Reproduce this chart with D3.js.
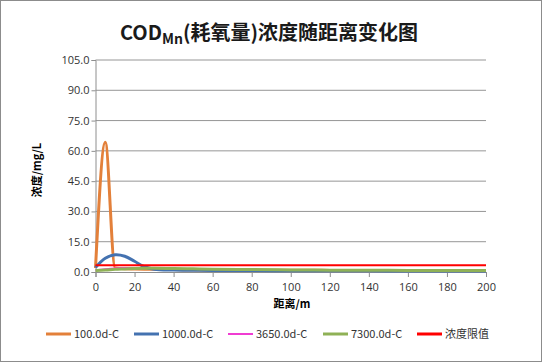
<html>
  <script src="https://d3js.org/d3.v7.min.js"></script>
  <style>
    body { margin: 0; background: #fff; }
    text { font-family: 'Noto Sans CJK SC', 'Open Sans', sans-serif; }
  </style>
  <body>
    <svg id="vis" width="542" height="362"></svg>
    <script>
      // distances (m)
      dist = [0, 5, 10, 15, 20, 25, 30, 40, 50, 60, 80, 100, 120, 140, 160, 180, 200]

      s100  = [2.0, 64.3, 2.0, 1.6, 1.5, 1.4, 1.3, 1.2, 1.1, 1.0, 0.9, 0.9, 0.8, 0.8, 0.8, 0.8, 0.8]
      s1000 = [2.2, 6.8, 8.5, 7.8, 5.3, 2.6, 1.4, 1.0, 0.9, 0.8, 0.7, 0.6, 0.6, 0.6, 0.5, 0.5, 0.5]
      s3650 = [1.0, 1.5, 1.9, 2.1, 2.1, 2.0, 1.9, 1.6, 1.4, 1.3, 1.1, 1.0, 0.9, 0.9, 0.8, 0.8, 0.8]
      s7300 = [0.8, 1.0, 1.3, 1.5, 1.7, 1.8, 1.8, 1.7, 1.6, 1.4, 1.2, 1.0, 0.9, 0.9, 0.8, 0.8, 0.8]
      limit = [3.3, 3.3, 3.3, 3.3, 3.3, 3.3, 3.3, 3.3, 3.3, 3.3, 3.3, 3.3, 3.3, 3.3, 3.3, 3.3, 3.3]

      names = ['100.0d-C', '1000.0d-C', '3650.0d-C', '7300.0d-C', '浓度限值']
      colors = ['#E3803A', '#4472B0', '#F03CD2', '#8FB156', '#FF0000']
      widths = [3, 3, 1.5, 3, 2]
      series = [s100, s1000, s3650, s7300, limit]

      yTicks = [0, 15, 30, 45, 60, 75, 90, 105]
      xTicks = [0, 20, 40, 60, 80, 100, 120, 140, 160, 180, 200]

      var svg = d3.select("#vis")

      svg.append("rect")
        .attr("x", 0.5).attr("y", 0.5)
        .attr("width", 541).attr("height", 361)
        .style("fill", "white")
        .style("stroke", "#8c8c8c")

      var x = d3.scaleLinear().domain([0, 200]).range([95.5, 486])
      var y = d3.scaleLinear().domain([0, 105]).range([272, 60])

      // grid
      svg.selectAll(".grid").data(yTicks.slice(1)).enter()
        .append("line")
        .attr("x1", x(0)).attr("x2", x(200))
        .attr("y1", d => y(d)).attr("y2", d => y(d))
        .style("stroke", "#969696")
        .style("stroke-width", 1)

      var yAxis = svg.append("g")
        .attr("transform", `translate(${x(0)},0)`)
        .call(d3.axisLeft(y).tickValues(yTicks).tickFormat(d3.format(".1f")).tickSize(4))
      yAxis.select(".domain").style("stroke", "#8e8e8e")
      yAxis.selectAll(".tick line").style("stroke", "#8e8e8e")
      yAxis.selectAll("text").style("font-size", "11px").style("fill", "#333")
        .style("font-family", "'Open Sans', sans-serif").attr("x", -6)

      var xAxis = svg.append("g")
        .attr("transform", `translate(0,${y(0)})`)
        .call(d3.axisBottom(x).tickValues(xTicks).tickSize(5))
      xAxis.select(".domain").style("stroke", "#8e8e8e")
      xAxis.selectAll(".tick line").style("stroke", "#8e8e8e")
      xAxis.selectAll("text").style("font-size", "11px").style("fill", "#333")
        .style("font-family", "'Open Sans', sans-serif").attr("dy", "1.0em")

      var smooth = d3.line()
        .x((d, i) => x(dist[i]))
        .y(d => y(d))
        .curve(d3.curveCatmullRom.alpha(0.5))

      var spike = d3.line()
        .x((d, i) => x(dist[i]))
        .y(d => y(d))
        .curve(d3.curveMonotoneX)

      series.forEach((s, k) => {
        svg.append("path")
          .attr("d", k === 0 ? spike(s) : smooth(s))
          .style("fill", "none")
          .style("stroke", colors[k])
          .style("stroke-width", widths[k])
          .style("stroke-linejoin", "round")
      })

      // title
      var t = svg.append("text")
        .attr("x", 269).attr("y", 40)
        .attr("text-anchor", "middle")
        .style("font-size", "20px")
        .style("font-weight", "bold")
        .style("fill", "#1a1a1a")
      t.append("tspan").text("COD")
      t.append("tspan").text("Mn").attr("dy", 4).style("font-size", "14px")
      t.append("tspan").text("(耗氧量)浓度随距离变化图").attr("dy", -4)

      svg.append("text")
        .attr("transform", "translate(41,170) rotate(-90)")
        .attr("text-anchor", "middle")
        .style("font-size", "11px")
        .style("font-weight", "bold")
        .text("浓度/mg/L")

      svg.append("text")
        .attr("x", 292).attr("y", 308)
        .attr("text-anchor", "middle")
        .style("font-size", "11px")
        .style("font-weight", "bold")
        .text("距离/m")

      // legend
      legX = [46, 134, 228, 323, 417]
      names.forEach((n, k) => {
        svg.append("line")
          .attr("x1", legX[k]).attr("x2", legX[k] + 25)
          .attr("y1", 334).attr("y2", 334)
          .style("stroke", colors[k])
          .style("stroke-width", widths[k] < 2 ? 2 : 3)
        svg.append("text")
          .attr("x", legX[k] + 28).attr("y", 338)
          .style("font-size", "11px")
          .style("fill", "#333")
          .text(n)
      })
    </script>
  </body>
</html>
